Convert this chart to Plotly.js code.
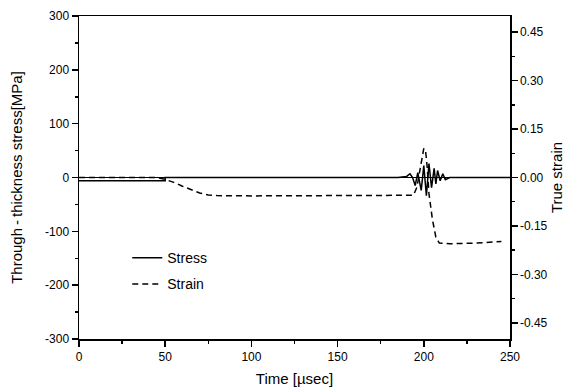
<!DOCTYPE html>
<html>
<head>
<meta charset="utf-8">
<script src="https://cdn.plot.ly/plotly-3.0.1.min.js"></script>
<style>html,body{margin:0;padding:0;background:#fff;}#chart{width:575px;height:391px;}</style>
</head>
<body>
<div id="chart"></div>
<script>
// Stress (MPa) vs time (µs)
const timeStress = [0, 50, 50, 100, 185, 190, 192, 193.5, 195, 196.5, 198.5, 200, 201.5, 203, 204.5, 206, 207, 208, 209.5, 211, 212.5, 215, 250];
const stress     = [-6, -6, 0, 0, 0, 2, 7, 0, -15, 9, -24, 22, -34, 26, -19, 17, -12, 13, -6, 7, -4, 0, 0];

// True strain vs time (µs)
const timeStrain = [0, 45, 50, 55, 60, 65, 70, 75, 80, 100, 150, 190, 194, 196, 198, 200, 201, 202, 203, 205, 207, 209, 215, 230, 245];
const strain     = [0, 0, -0.006, -0.015, -0.027, -0.038, -0.048, -0.054, -0.056, -0.057, -0.057, -0.057, -0.055, -0.03, 0.03, 0.09, 0.085, 0.03, -0.05, -0.13, -0.185, -0.203, -0.205, -0.203, -0.198];

const stressTicks = [-300, -200, -100, 0, 100, 200, 300];
const stressTickText = ["-300", "-200", "-100", "0", "100", "200", "300"];
const strainTicks = [-0.45, -0.30, -0.15, 0, 0.15, 0.30, 0.45];
const strainTickText = ["-0.45", "-0.30", "-0.15", "0.00", "0.15", "0.30", "0.45"];

const FONT = "Liberation Sans, Arial, sans-serif";

const traces = [
  {x: timeStress, y: stress, name: "Stress", type: "scatter", mode: "lines",
   line: {color: "#000", width: 1.5}, legendgroup: "a", yaxis: "y"},
  {x: timeStrain, y: strain, name: "Strain", type: "scatter", mode: "lines",
   line: {color: "#000", width: 1.5, dash: "6px,4px"}, legendgroup: "b", yaxis: "y2"}
];

const axisCommon = {
  showgrid: false, showline: true, linecolor: "#000", linewidth: 1.5,
  ticks: "outside", ticklen: 6, tickwidth: 1.5, tickcolor: "#000",
  tickfont: {family: FONT, size: 12, color: "#000"}
};

const layout = {
  width: 575, height: 391,
  margin: {l: 79, r: 65, t: 16, b: 52},
  paper_bgcolor: "#fff", plot_bgcolor: "#fff",
  font: {family: FONT, color: "#000"},
  showlegend: true,
  legend: {x: 0.112, y: 0.30, xanchor: "left", yanchor: "top",
           font: {family: FONT, size: 14, color: "#000"},
           bgcolor: "rgba(0,0,0,0)", traceorder: "grouped", tracegroupgap: 5},
  xaxis: Object.assign({}, axisCommon, {
    range: [0, 250], tickmode: "linear", tick0: 0, dtick: 50,
    mirror: true, zeroline: false,
    minor: {tickmode: "linear", tick0: 0, dtick: 25, ticks: "outside", ticklen: 3, tickwidth: 1.5, tickcolor: "#000"},
    title: {text: "Time [µsec]", font: {family: FONT, size: 15, color: "#000"}, standoff: 10}
  }),
  yaxis: Object.assign({}, axisCommon, {
    range: [-300, 300], tickmode: "array", tickvals: stressTicks, ticktext: stressTickText,
    zeroline: true, zerolinecolor: "#000", zerolinewidth: 1.5,
    minor: {tickmode: "linear", tick0: 0, dtick: 50, ticks: "outside", ticklen: 3, tickwidth: 1.5, tickcolor: "#000"},
    title: {text: "Through\u2009-\u2009thickness stress[MPa]", font: {family: FONT, size: 15, color: "#000"}, standoff: 19}
  }),
  yaxis2: Object.assign({}, axisCommon, {
    overlaying: "y", side: "right", anchor: "x",
    range: [-0.5, 0.5], tickmode: "array", tickvals: strainTicks, ticktext: strainTickText,
    zeroline: false,
    minor: {tickmode: "linear", tick0: 0, dtick: 0.075, ticks: "outside", ticklen: 3, tickwidth: 1.5, tickcolor: "#000"},
    title: {text: "True strain", font: {family: FONT, size: 15, color: "#000"}, standoff: 5}
  })
};

Plotly.newPlot("chart", traces, layout, {displayModeBar: false, staticPlot: true});
</script>
</body>
</html>
